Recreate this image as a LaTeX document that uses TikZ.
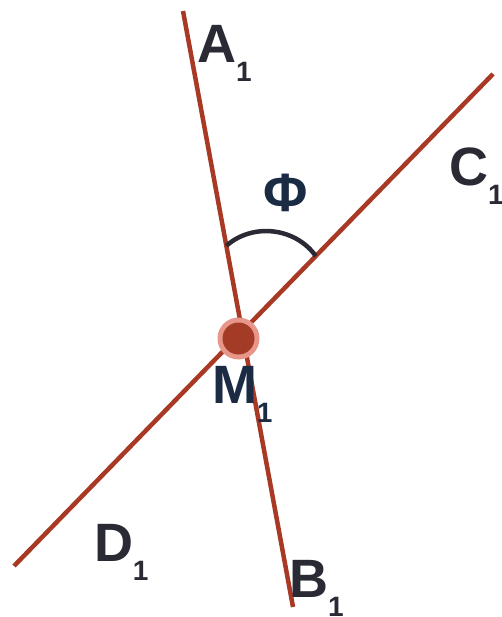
\documentclass[tikz,border=0pt]{standalone}
\usepackage{fontspec}
\setmainfont{Liberation Sans}
\usepackage{tikz}
\usetikzlibrary{calc}
\usepackage{xcolor}
\definecolor{linered}{RGB}{168,58,37}
\definecolor{halored}{RGB}{232,150,138}
\definecolor{dotred}{RGB}{163,59,39}
\definecolor{inkdark}{RGB}{42,42,53}
\definecolor{inknavy}{RGB}{27,43,68}
\newcommand{\ptlabel}[2]{#1\raisebox{-19pt}{\fontsize{28}{28}\selectfont #2}}

\begin{document}
\begin{tikzpicture}[x=1pt, y=-1pt,
  redline/.style={linered, line width=4.5pt},
  anglearc/.style={inkdark, line width=4.5pt},
  ptname/.style={anchor=base west, inner sep=0pt, outer sep=0pt,
    font=\fontsize{54}{54}\selectfont\bfseries}]
  \useasboundingbox (0,0) rectangle (501,617);
  % End points of the two lines
  \coordinate (A) at (183,11);
  \coordinate (B) at (293,607);
  \coordinate (C) at (493,74);
  \coordinate (D) at (14,566);
  \draw[redline] (A) -- (B);
  \draw[redline] (C) -- (D);
  % Angle between the lines
  \coordinate (a1) at ($(A)!0.394!(B)$);
  \coordinate (c1) at ($(C)!0.37!(D)$);
  \draw[anglearc] (a1) to[bend left=48] (c1);
  \node[ptname, inknavy] (phi) at (263,212) {Φ};
  % Intersection point
  \node[circle, fill=halored, minimum size=42pt, inner sep=0pt] (M) at (238.5,338.5) {};
  \fill[dotred] (M.center) circle (16pt);
  % Labels
  \foreach \name/\x/\y/\col in {A/197/63/inkdark, C/449/186/inkdark,
      D/94/561/inkdark, B/289/597/inkdark, M/212/403/inknavy} {
    \node[ptname, \col] (lbl\name) at (\x,\y) {\ptlabel{\name}{1}};
  }
\end{tikzpicture}
\end{document}
